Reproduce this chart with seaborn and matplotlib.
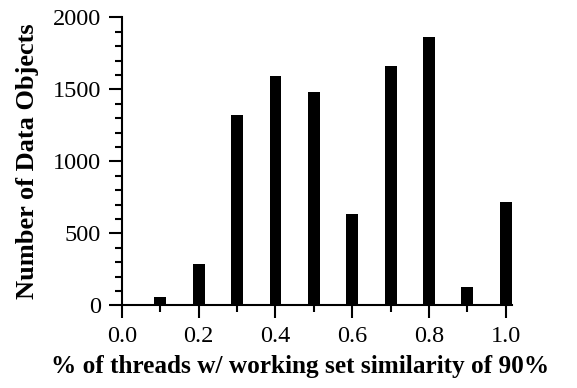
import matplotlib
matplotlib.use("Agg")
import matplotlib.pyplot as plt
import seaborn as sns
import pandas as pd
from matplotlib.ticker import MultipleLocator

fractions = [0.1, 0.2, 0.3, 0.4, 0.5, 0.6, 0.7, 0.8, 0.9, 1.0]
counts = [55, 285, 1325, 1595, 1480, 635, 1665, 1860, 125, 720]
xticks = [0.0, 0.2, 0.4, 0.6, 0.8, 1.0]
xtick_labels = ["0.0", "0.2", "0.4", "0.6", "0.8", "1.0"]
yticks = [0, 500, 1000, 1500, 2000]

sns.set_theme(style="ticks")
plt.rcParams["font.family"] = ["Liberation Serif", "DejaVu Serif"]

df = pd.DataFrame({"frac": fractions, "count": counts})

fig = plt.figure(figsize=(5.77, 3.88), dpi=100)
ax = fig.add_axes([0.2114, 0.2131, 0.887 - 0.2114, 0.9554 - 0.2131])

sns.barplot(data=df, x="frac", y="count", native_scale=True, width=0.31,
            color="black", saturation=1, edgecolor="none", ax=ax)

ax.set_xlim(0, 1.016)
ax.set_ylim(0, 2000)
ax.set_xticks(xticks)
ax.set_xticklabels(xtick_labels)
ax.set_yticks(yticks)
ax.set_yticklabels([str(v) for v in yticks])
ax.xaxis.set_minor_locator(MultipleLocator(0.1))
ax.yaxis.set_minor_locator(MultipleLocator(100))

for side in ["top", "right"]:
    ax.spines[side].set_visible(False)
for side in ["left", "bottom"]:
    ax.spines[side].set_linewidth(1.5)
    ax.spines[side].set_color("black")

ax.tick_params(axis="both", which="major", direction="out", length=9.5, width=1.5,
               labelsize=17.5, color="black", labelcolor="black", pad=5.5)
ax.tick_params(axis="both", which="minor", direction="out", length=5, width=1.5,
               color="black")

ax.set_xlabel("% of threads w/ working set similarity of 90%", fontsize=18.2,
              fontweight="bold", labelpad=6, color="black", x=0.456)
ax.set_ylabel("Number of Data Objects", fontsize=19, fontweight="bold",
              labelpad=10, color="black")

fig.savefig("out.png", dpi=100)
